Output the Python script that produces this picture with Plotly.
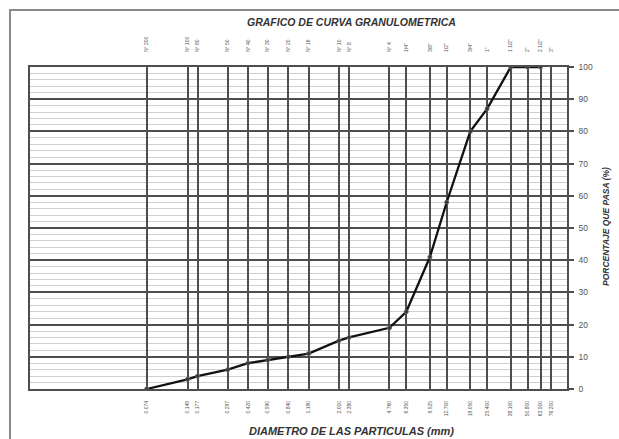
import plotly.graph_objects as go

# Sieve openings (mm) and their names
sizes = [0.074, 0.149, 0.177, 0.297, 0.420, 0.590, 0.840, 1.190, 2.000, 2.380,
         4.760, 6.350, 9.525, 12.700, 19.050, 25.400, 38.100, 50.800, 63.500, 76.200]
size_labels = ["0.074", "0.149", "0.177", "0.297", "0.420", "0.590", "0.840", "1.190",
               "2.000", "2.380", "4.760", "6.350", "9.525", "12.700", "19.050", "25.400",
               "38.100", "50.800", "63.500", "76.200"]
sieve_names = ["N° 200", "N° 100", "N° 80", "N° 50", "N° 40", "N° 30", "N° 20", "N° 16",
               "N° 10", "N° 8", "N° 4", "1/4\"", "3/8\"", "1/2\"", "3/4\"", "1\"",
               "1 1/2\"", "2\"", "2 1/2\"", "3\""]

# Grading curve: percent passing per sieve
curve_sizes = [0.074, 0.149, 0.177, 0.297, 0.420, 0.590, 0.840, 1.190, 2.000, 2.380,
               4.760, 6.350, 9.525, 12.700, 19.050, 25.400, 38.100, 50.800, 63.500]
percent_passing = [0, 3, 4, 6, 8, 9, 10, 11, 15, 16,
                   19, 24, 41, 58, 80, 87, 100, 100, 100]

y_ticks = list(range(0, 101, 10))

FONT = "Liberation Sans"
GRID = "#4e4e4e"
W, H = 619, 439

# plot area edges in px (left, right, top, bottom)
X0, X1, Y0, Y1 = 30, 567, 67, 389
# sheet frame offset from the page corner
FRAME = 10


def fx(xp):
    return xp / W


def fy(yp):
    return 1 - yp / H


fig = go.Figure()

fig.add_trace(go.Scatter(
    x=curve_sizes, y=percent_passing, mode="lines+markers",
    line=dict(color="#111111", width=2.3),
    marker=dict(symbol="circle", size=4, color="#333333",
                line=dict(color="#666666", width=1)),
    showlegend=False, hoverinfo="x+y",
))

# Anchor trace for the top (sieve name) axis
fig.add_trace(go.Scatter(
    x=[sizes[0]], y=[0], xaxis="x2", mode="markers",
    marker=dict(opacity=0), showlegend=False, hoverinfo="skip",
))

fig.update_layout(
    width=W, height=H,
    margin=dict(l=0, r=0, t=0, b=0),
    paper_bgcolor="white", plot_bgcolor="white",
    font=dict(family=FONT, color="#444444"),
    xaxis=dict(
        domain=[fx(X0), fx(X1)],
        type="log", range=[-2, 2],
        tickmode="array", tickvals=sizes, ticktext=size_labels,
        tickangle=-90, tickfont=dict(size=5, color="#555555"),
        ticks="", ticklabelstandoff=8, automargin=False,
        showgrid=True, gridcolor=GRID, gridwidth=1.5,
        showline=True, linecolor=GRID, linewidth=1.8, mirror=True,
        zeroline=False,
    ),
    xaxis2=dict(
        type="log", range=[-2, 2], overlaying="x", side="top", anchor="y",
        tickmode="array", tickvals=sizes, ticktext=sieve_names,
        tickangle=-90, tickfont=dict(size=5, color="#555555"),
        ticks="", ticklabelstandoff=14, automargin=False,
        showgrid=False, showline=False, zeroline=False,
    ),
    yaxis=dict(
        domain=[fy(Y1), fy(Y0)],
        range=[0, 100], side="right",
        tickmode="array", tickvals=y_ticks,
        tickfont=dict(size=8.5, color="#555555"),
        ticks="outside", ticklen=5, tickcolor=GRID, tickwidth=1.5,
        ticklabelstandoff=3, automargin=False,
        showgrid=True, gridcolor=GRID, gridwidth=1.5,
        minor=dict(dtick=2, showgrid=True, gridcolor="#d0d0d0", gridwidth=1),
        showline=True, linecolor=GRID, linewidth=1.8, mirror=True,
        zeroline=False,
    ),
    shapes=[
        # sheet frame, open toward the right and bottom page edges
        dict(type="path", xref="paper", yref="paper",
             path=f"M {fx(FRAME)},0 L {fx(FRAME)},{fy(FRAME)} L 1,{fy(FRAME)}",
             line=dict(color="#8a8a8a", width=2)),
    ],
    annotations=[
        dict(text="<b><i>GRAFICO DE CURVA GRANULOMETRICA</i></b>",
             xref="paper", yref="paper", x=fx(351), y=fy(22),
             showarrow=False, xanchor="center", yanchor="middle",
             font=dict(size=10.5, color="#333333")),
        dict(text="<b><i>DIAMETRO DE LAS PARTICULAS (mm)</i></b>",
             xref="paper", yref="paper", x=fx(351), y=fy(431),
             showarrow=False, xanchor="center", yanchor="middle",
             font=dict(size=11, color="#333333")),
        dict(text="<b><i>PORCENTAJE QUE PASA (%)</i></b>",
             xref="paper", yref="paper", x=fx(606), y=fy(227),
             showarrow=False, xanchor="center", yanchor="middle", textangle=-90,
             font=dict(size=8.5, color="#333333")),
    ],
)

fig.write_html("out.html")
